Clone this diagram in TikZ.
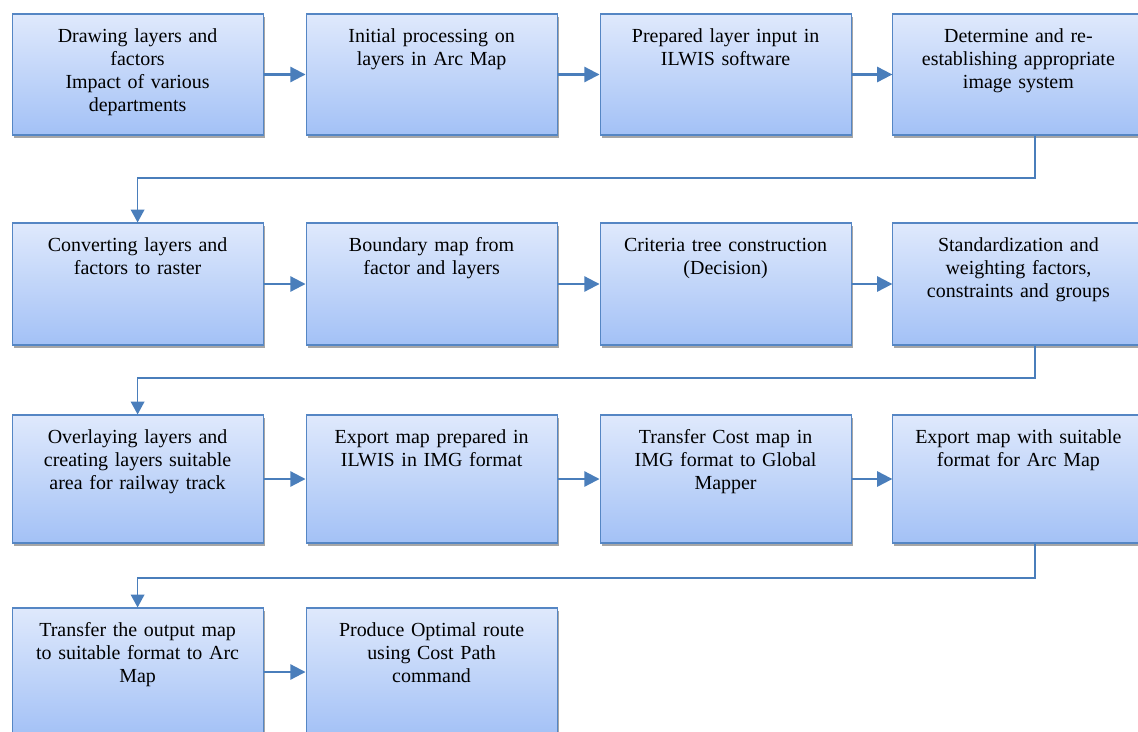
\documentclass[tikz,border=0pt]{standalone}
\usepackage{fontspec}
\setmainfont{Liberation Serif}
\usetikzlibrary{positioning,shadows,arrows.meta,calc}
\definecolor{BoxTop}{HTML}{DFE9FC}
\definecolor{BoxBottom}{HTML}{A3C1F6}
\definecolor{BoxLine}{HTML}{5586C4}
\definecolor{LinkBlue}{HTML}{4A7EBB}
\definecolor{ShadowGrey}{HTML}{A6A6A6}

\begin{document}
\begin{tikzpicture}[
  stepbox/.style={rectangle, draw=BoxLine, line width=0.8pt, top color=BoxTop, bottom color=BoxBottom,
    drop shadow={shadow xshift=1pt, shadow yshift=-2pt, fill=ShadowGrey, opacity=1},
    minimum width=6.275cm, inner xsep=0pt, inner ysep=0pt, text width=6.1cm, align=center,
    text height=0.7cm, font=\fontsize{14.2}{16.4}\selectfont},
  flow/.style={-{Triangle[length=3.8mm,width=3.8mm]}, draw=LinkBlue, line width=1.5pt},
  turn/.style={-{Triangle[length=3.2mm,width=3.4mm]}, draw=LinkBlue, line width=1pt}]
  \useasboundingbox (0,0) rectangle (28.45,-18.3);
  \clip (0,0) rectangle (28.45,-18.3);
  % first row
  \node[stepbox, text depth=2.325cm] (n1) at (3.44,-1.8625) {Drawing layers and\\factors\\Impact of various\\departments};
  \node[stepbox, text depth=2.325cm] (n2) at (10.79,-1.8625) {Initial processing on\\layers in Arc Map};
  \draw[flow] (n1) -- (n2);
  \node[stepbox, text depth=2.325cm] (n3) at (18.14,-1.8625) {Prepared layer input in\\ILWIS software};
  \draw[flow] (n2) -- (n3);
  \node[stepbox, text depth=2.325cm] (n4) at (25.46,-1.8625) {Determine and re-\\establishing appropriate\\image system};
  \draw[flow] (n3) -- (n4);
  % second row
  \node[stepbox, text depth=2.35cm] (n5) at (3.44,-7.1) {Converting layers and\\factors to raster};
  \coordinate (bend1) at (25.875,-4.45);
  \draw[turn] (n4.south -| bend1) -- (bend1) -| (n5.north);
  \node[stepbox, text depth=2.35cm] (n6) at (10.79,-7.1) {Boundary map from\\factor and layers};
  \draw[flow] (n5) -- (n6);
  \node[stepbox, text depth=2.35cm] (n7) at (18.14,-7.1) {Criteria tree construction\\(Decision)};
  \draw[flow] (n6) -- (n7);
  \node[stepbox, text depth=2.35cm] (n8) at (25.46,-7.1) {Standardization and\\weighting factors,\\constraints and groups};
  \draw[flow] (n7) -- (n8);
  % third row
  \node[stepbox, text depth=2.5cm] (n9) at (3.44,-11.975) {Overlaying layers and\\creating layers suitable\\area for railway track};
  \coordinate (bend2) at (25.875,-9.45);
  \draw[turn] (n8.south -| bend2) -- (bend2) -| (n9.north);
  \node[stepbox, text depth=2.5cm] (n10) at (10.79,-11.975) {Export map prepared in\\ILWIS in IMG format};
  \draw[flow] (n9) -- (n10);
  \node[stepbox, text depth=2.5cm] (n11) at (18.14,-11.975) {Transfer Cost map in\\IMG format to Global\\Mapper};
  \draw[flow] (n10) -- (n11);
  \node[stepbox, text depth=2.5cm] (n12) at (25.46,-11.975) {Export map with suitable\\format for Arc Map};
  \draw[flow] (n11) -- (n12);
  % last row
  \node[stepbox, text depth=2.5cm] (n13) at (3.44,-16.8) {Transfer the output map\\to suitable format to Arc\\Map};
  \coordinate (bend3) at (25.875,-14.45);
  \draw[turn] (n12.south -| bend3) -- (bend3) -| (n13.north);
  \node[stepbox, text depth=2.5cm] (n14) at (10.79,-16.8) {Produce Optimal route\\using Cost Path\\command};
  \draw[flow] (n13) -- (n14);
\end{tikzpicture}
\end{document}
